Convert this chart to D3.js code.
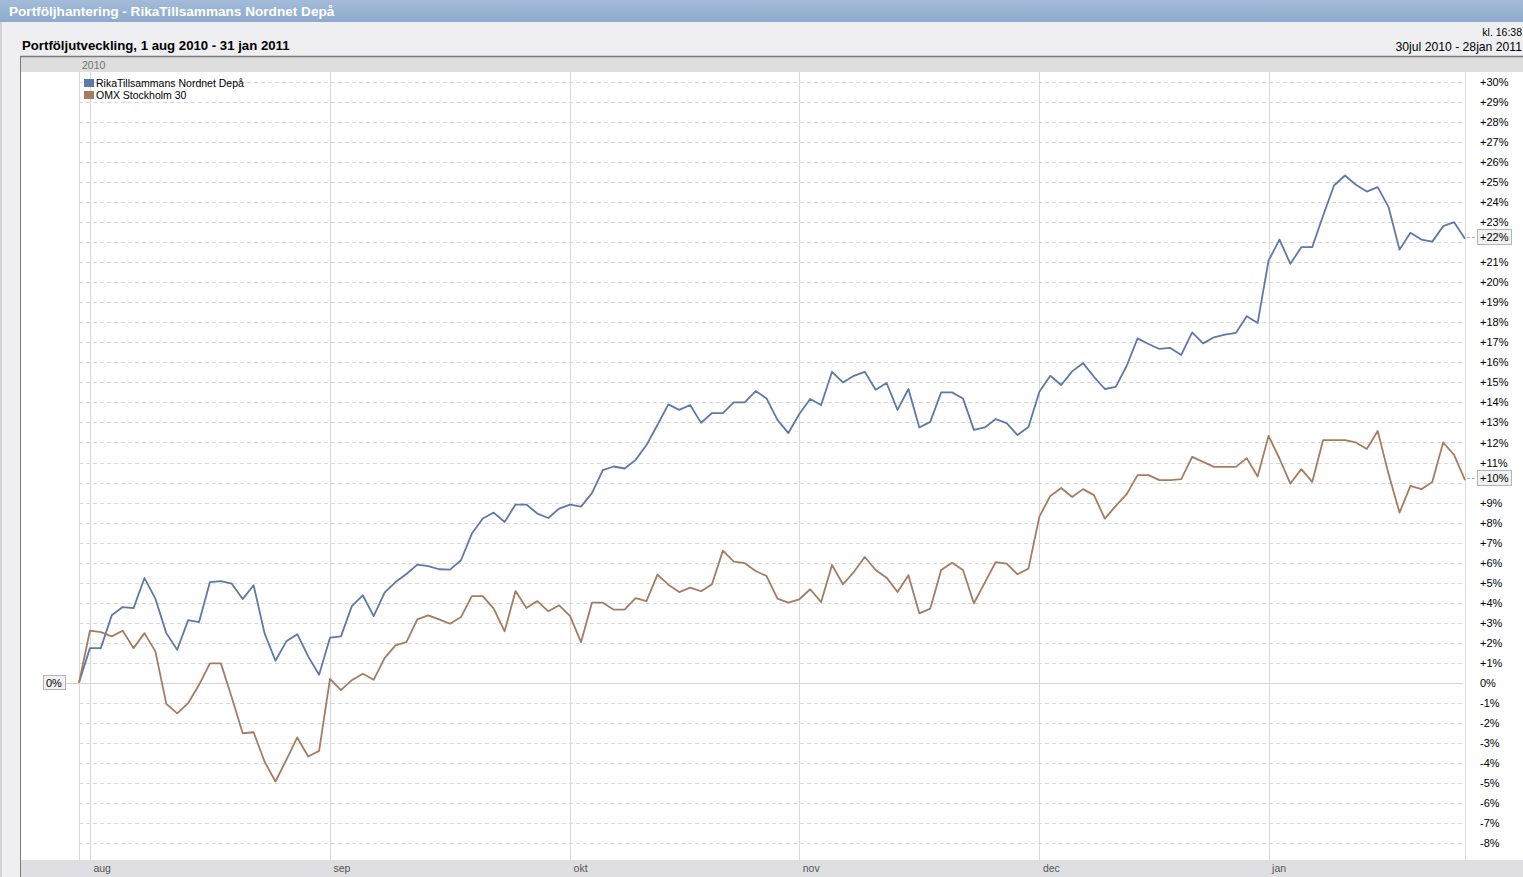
<!DOCTYPE html>
<html><head><meta charset="utf-8">
<script src="https://cdn.jsdelivr.net/npm/d3@7"></script>
<style>
html,body{margin:0;padding:0;background:#efeff1;}
svg{display:block;font-family:"Liberation Sans",Arial,sans-serif;}
</style></head>
<body>
<svg id="c" width="1523" height="877"></svg>
<script>
// ---- data ----
const pageTitle = "Portföljhantering - RikaTillsammans Nordnet Depå";
const chartTitle = "Portföljutveckling, 1 aug 2010 - 31 jan 2011";
const timeLabel = "kl. 16:38";
const rangeLabel = "30jul 2010 - 28jan 2011";
const yearLabel = "2010";
const seriesNames = ["RikaTillsammans Nordnet Depå", "OMX Stockholm 30"];
const seriesColors = ["#5d79a9", "#a67c60"];
// trading days per month
const tradingDays = [
  ["2010-07", [30]],
  ["2010-08", [2,3,4,5,6,9,10,11,12,13,16,17,18,19,20,23,24,25,26,27,30,31]],
  ["2010-09", [1,2,3,6,7,8,9,10,13,14,15,16,17,20,21,22,23,24,27,28,29,30]],
  ["2010-10", [1,4,5,6,7,8,11,12,13,14,15,18,19,20,21,22,25,26,27,28,29]],
  ["2010-11", [1,2,3,4,5,8,9,10,11,12,15,16,17,18,19,22,23,24,25,26,29,30]],
  ["2010-12", [1,2,3,6,7,8,9,10,13,14,15,16,17,20,21,22,23,27,28,29,30]],
  ["2011-01", [3,4,5,7,10,11,12,13,14,17,18,19,20,21,24,25,26,27,28]]
];
const monthLabels = ["aug","sep","okt","nov","dec","jan"];
const depa = [0,1.73,1.73,3.37,3.78,3.73,5.23,4.2,2.48,1.65,3.13,3.03,5.03,5.08,4.95,4.18,4.87,2.48,1.1,2.07,2.43,1.32,0.4,
  2.25,2.32,3.83,4.37,3.33,4.5,5.03,5.43,5.9,5.83,5.67,5.65,6.12,7.45,8.2,8.5,8.03,8.9,8.9,8.45,8.23,8.7,
  8.9,8.8,9.47,10.62,10.8,10.7,11.13,11.87,12.87,13.9,13.63,13.87,12.98,13.47,13.47,14.0,14.0,14.57,14.2,13.13,12.47,
  13.42,14.17,13.87,15.53,15.0,15.33,15.53,14.63,14.97,13.63,14.67,12.75,13.03,14.5,14.5,14.2,12.63,12.75,13.17,12.97,12.37,12.77,
  14.53,15.33,14.87,15.55,15.96,15.28,14.67,14.78,15.83,17.2,16.92,16.67,16.72,16.37,17.5,16.95,17.25,17.38,17.47,18.3,17.97,
  21.08,22.13,20.92,21.75,21.75,23.33,24.83,25.33,24.87,24.53,24.75,23.75,21.63,22.47,22.13,22.03,22.8,23.0,22.17];
const omx = [0,2.6,2.53,2.32,2.6,1.73,2.48,1.57,-1.05,-1.53,-1.02,-0.1,0.97,0.97,-0.73,-2.52,-2.47,-3.93,-4.93,-3.85,-2.73,-3.68,-3.4,
  0.2,-0.37,0.13,0.45,0.15,1.23,1.87,2.03,3.17,3.37,3.17,2.95,3.28,4.33,4.33,3.7,2.57,4.58,3.73,4.08,3.57,3.87,
  3.33,2.03,4.0,4.0,3.65,3.65,4.23,4.08,5.4,4.9,4.53,4.75,4.57,4.92,6.6,6.05,5.97,5.58,5.33,4.2,4.0,
  4.17,4.67,4.03,5.88,4.92,5.53,6.28,5.63,5.25,4.53,5.37,3.47,3.7,5.63,6.0,5.63,3.97,5.0,6.03,5.95,5.42,5.7,
  8.3,9.33,9.73,9.28,9.67,9.37,8.2,8.83,9.42,10.37,10.37,10.12,10.12,10.17,11.28,11.03,10.78,10.78,10.78,11.22,10.3,
  12.33,11.2,9.95,10.67,10.03,12.12,12.12,12.12,12.0,11.67,12.57,10.42,8.5,9.83,9.67,10.03,12.0,11.38,10.12];
const yTicks = d3.range(-8, 31, 1);

// ---- build ----
const dates = [];
const monthStarts = [];
tradingDays.forEach(([m, days], mi) => {
  days.forEach((d, di) => {
    const s = m + "-" + String(d).padStart(2, "0");
    dates.push(s);
    if (di === 0 && mi > 0) monthStarts.push(s);
  });
});

const svg = d3.select("#c");
const W = 1523, H = 877;
const plot = {l: 79, r: 1465, t: 72, b: 860};

const x = d3.scalePoint().domain(dates).range([plot.l, plot.r]);
const y = d3.scaleLinear().domain([-8, 30]).range([843, 82]);

const lastVals = [depa[depa.length - 1], omx[omx.length - 1]];
const markedTicks = lastVals.map(v => Math.round(v));

// page background and title bar
svg.append("rect").attr("width", W).attr("height", H).attr("fill", "#efeff1");
const grad = svg.append("defs").append("linearGradient").attr("id","tb").attr("x1",0).attr("y1",0).attr("x2",0).attr("y2",1);
grad.append("stop").attr("offset","0%").attr("stop-color","#a3bbd8");
grad.append("stop").attr("offset","100%").attr("stop-color","#8eaacd");
svg.append("rect").attr("width", W).attr("height", 22).attr("fill", "url(#tb)");
svg.append("text").attr("x", 9).attr("y", 16).attr("fill", "#fff")
  .attr("font-size", 13.6).attr("font-weight", "bold").text(pageTitle);
svg.append("line").attr("x1", 1).attr("x2", 1).attr("y1", 22).attr("y2", H).attr("stroke", "#b8b8bc");

svg.append("text").attr("x", 22).attr("y", 50).attr("font-size", 13.2).attr("font-weight", "bold")
  .attr("fill", "#000").text(chartTitle);
svg.append("text").attr("x", 1522).attr("y", 36).attr("font-size", 10.5).attr("text-anchor", "end")
  .attr("fill", "#000").text(timeLabel);
svg.append("text").attr("x", 1522).attr("y", 51).attr("font-size", 12.2).attr("text-anchor", "end")
  .attr("fill", "#000").text(rangeLabel);

// chart frame
svg.append("rect").attr("x", 20).attr("y", 56).attr("width", W - 20).attr("height", H - 56).attr("fill", "#fff");
svg.append("rect").attr("x", 21).attr("y", 57).attr("width", W - 21).attr("height", 15).attr("fill", "#dededf");
svg.append("rect").attr("x", 21).attr("y", plot.b).attr("width", W - 21).attr("height", H - plot.b).attr("fill", "#dfdfe3");
svg.append("line").attr("x1", 20).attr("x2", W).attr("y1", 56.5).attr("y2", 56.5).attr("stroke", "#7a7a7a").attr("stroke-width", 1.5);
svg.append("line").attr("x1", 20.5).attr("x2", 20.5).attr("y1", 56).attr("y2", H).attr("stroke", "#7a7a7a");
svg.append("text").attr("x", 82).attr("y", 69).attr("font-size", 10.5).attr("fill", "#707070").text(yearLabel);

// horizontal grid
svg.append("g").selectAll("line").data(yTicks.filter(d => d !== 0)).join("line")
  .attr("x1", plot.l).attr("x2", 1462)
  .attr("y1", d => Math.round(y(d)) + 0.5).attr("y2", d => Math.round(y(d)) + 0.5)
  .attr("stroke", "#d9d9d9").attr("stroke-dasharray", "4,3");
svg.append("line").attr("x1", 66).attr("x2", 1463)
  .attr("y1", Math.round(y(0)) + 0.5).attr("y2", Math.round(y(0)) + 0.5).attr("stroke", "#d4d4d4");

// vertical grid
const vlines = [x(dates[0]), ...monthStarts.map(d => x(d)), plot.r];
svg.append("g").selectAll("line").data(vlines).join("line")
  .attr("x1", d => Math.round(d) + 0.5).attr("x2", d => Math.round(d) + 0.5)
  .attr("y1", plot.t).attr("y2", plot.b).attr("stroke", "#d8d8d8");

// right axis (ticks covered by last-value markers are drawn by the markers)
const yAxis = d3.axisRight(y).tickValues(yTicks.filter(t => !markedTicks.includes(t))).tickSize(0).tickPadding(15)
  .tickFormat(d => d > 0 ? "+" + d + "%" : d + "%");
const ya = svg.append("g").attr("transform", `translate(${plot.r},0)`).call(yAxis);
ya.select(".domain").remove();
ya.selectAll("text").attr("font-size", 11).attr("fill", "#000").attr("font-family", "Liberation Sans, Arial, sans-serif");

// bottom month axis
const xAxis = d3.axisBottom(x).tickValues(monthStarts).tickSize(0).tickPadding(0)
  .tickFormat((d, i) => monthLabels[i]);
const xa = svg.append("g").attr("transform", `translate(0,${plot.b})`).call(xAxis);
xa.select(".domain").remove();
xa.selectAll("text").attr("text-anchor", "start").attr("dx", 3).attr("y", 5).attr("dy", "0.71em")
  .attr("font-size", 10.5).attr("fill", "#555").attr("font-family", "Liberation Sans, Arial, sans-serif");

// lines
const line = d3.line().x((d, i) => x(dates[i])).y(d => y(d));
[depa, omx].forEach((s, k) => {
  svg.append("path").datum(s).attr("d", line).attr("fill", "none")
    .attr("stroke", seriesColors[k]).attr("stroke-width", 1.8).attr("stroke-linejoin", "round");
});

// last value markers
lastVals.forEach(v => {
  const yy = Math.round(y(v)) - 2;
  svg.append("line").attr("x1", plot.r + 2).attr("x2", 1477).attr("y1", yy + 0.5).attr("y2", yy + 0.5)
    .attr("stroke", "#b0b0b0").attr("stroke-dasharray", "3,2");
  svg.append("rect").attr("x", 1477.5).attr("y", yy - 7.5).attr("width", 34).attr("height", 15)
    .attr("fill", "#f1f1f1").attr("stroke", "#b4b4b4");
  svg.append("text").attr("x", 1480).attr("y", yy + 4).attr("font-size", 11).attr("fill", "#000")
    .text("+" + Math.round(v) + "%");
});
// left 0% marker
svg.append("rect").attr("x", 43.5).attr("y", Math.round(y(0)) - 7.5).attr("width", 22).attr("height", 14)
  .attr("fill", "#f1f1f1").attr("stroke", "#b4b4b4");
svg.append("text").attr("x", 46).attr("y", Math.round(y(0)) + 4).attr("font-size", 11).attr("fill", "#000").text("0%");

// legend
const lg = svg.append("g").attr("transform", "translate(84,78)");
seriesNames.forEach((n, i) => {
  lg.append("rect").attr("x", 0).attr("y", i * 12 + 1).attr("width", 10).attr("height", 8).attr("fill", seriesColors[i]);
  lg.append("text").attr("x", 12).attr("y", i * 12 + 9).attr("font-size", 10.5).attr("fill", "#000").text(n);
});
</script>
</body></html>
